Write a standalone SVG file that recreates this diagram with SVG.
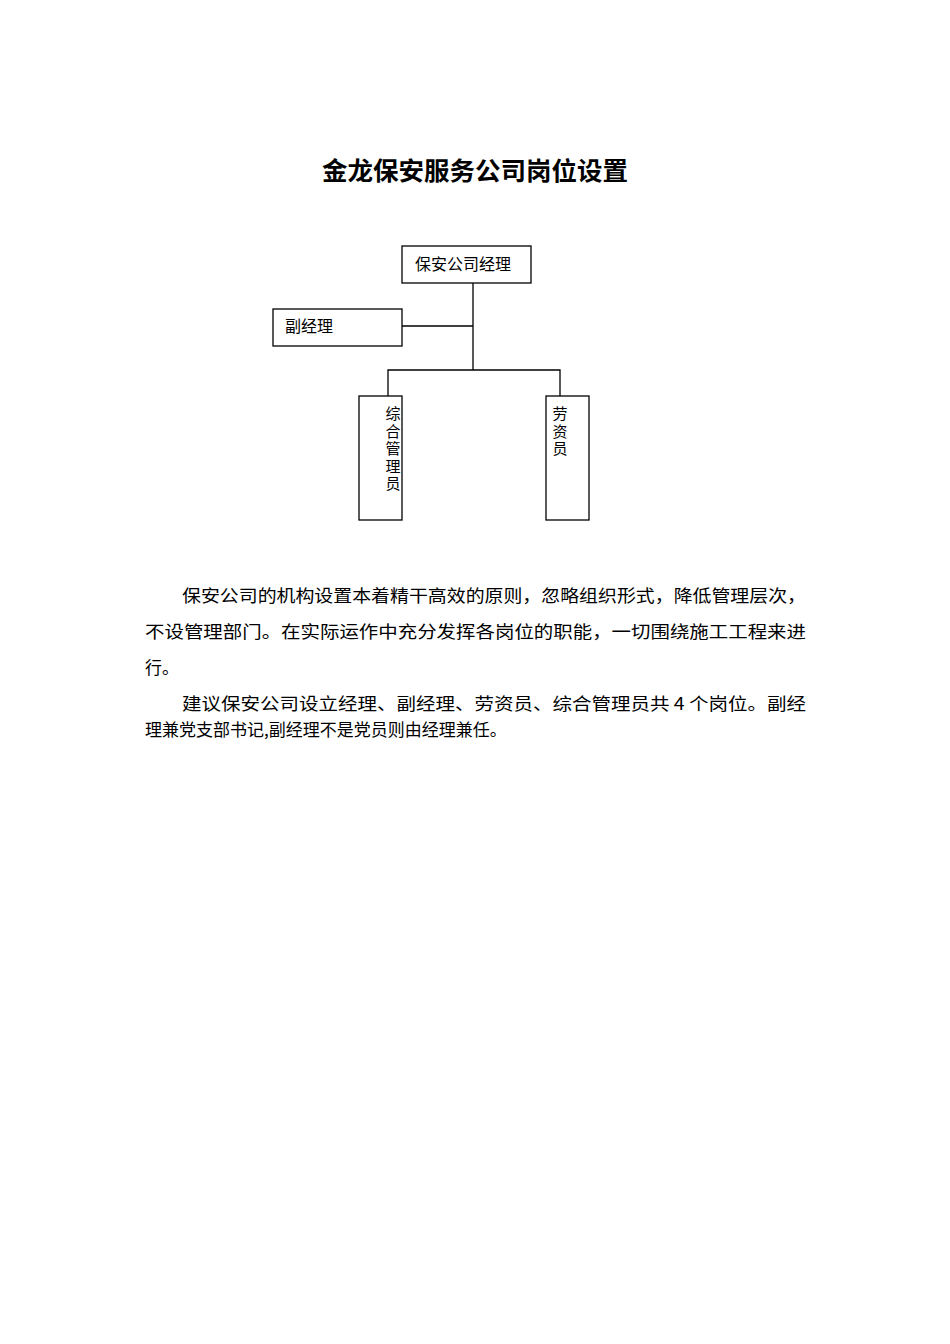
<svg xmlns="http://www.w3.org/2000/svg" width="950" height="1344" viewBox="0 0 950 1344">
<style>
text{font-family:"Noto Sans CJK SC","Noto Sans",sans-serif;fill:#000}
.b{fill:#fff;stroke:#000;stroke-width:1.3}
.l{stroke:#000;stroke-width:1.3;fill:none}
.n{font-size:16px}
.v{font-size:15px;writing-mode:vertical-rl;text-orientation:upright;letter-spacing:2.5px}
.p{font-size:17px}
</style>
<rect width="950" height="1344" fill="#fff"/>
<text x="475" y="180" font-size="25.5" font-weight="bold" text-anchor="middle">金龙保安服务公司岗位设置</text>
<g id="connectors">
<path class="l" d="M473,283V370M402,326H473M388,396V370H560V396"/>
</g>
<g id="n1"><rect class="b" x="402" y="246" width="129" height="37"/><text class="n" x="415" y="270">保安公司经理</text></g>
<g id="n2"><rect class="b" x="273" y="309" width="129" height="37"/><text class="n" x="285" y="332">副经理</text></g>
<g id="n3"><rect class="b" x="359" y="396" width="43" height="124"/><text class="v" x="393" y="406">综合管理员</text></g>
<g id="n4"><rect class="b" x="546" y="396" width="43" height="124"/><text class="v" x="560" y="406">劳资员</text></g>
<text class="p" x="182" y="602" textLength="624" lengthAdjust="spacingAndGlyphs">保安公司的机构设置本着精干高效的原则，忽略组织形式，降低管理层次，</text>
<text class="p" x="145" y="638" textLength="661" lengthAdjust="spacingAndGlyphs">不设管理部门。在实际运作中充分发挥各岗位的职能，一切围绕施工工程来进</text>
<text class="p" x="145" y="674">行。</text>
<text class="p" x="182" y="710" textLength="624" lengthAdjust="spacingAndGlyphs">建议保安公司设立经理、副经理、劳资员、综合管理员共 4 个岗位。副经</text>
<text class="p" x="145" y="736">理兼党支部书记,副经理不是党员则由经理兼任。</text>
</svg>
